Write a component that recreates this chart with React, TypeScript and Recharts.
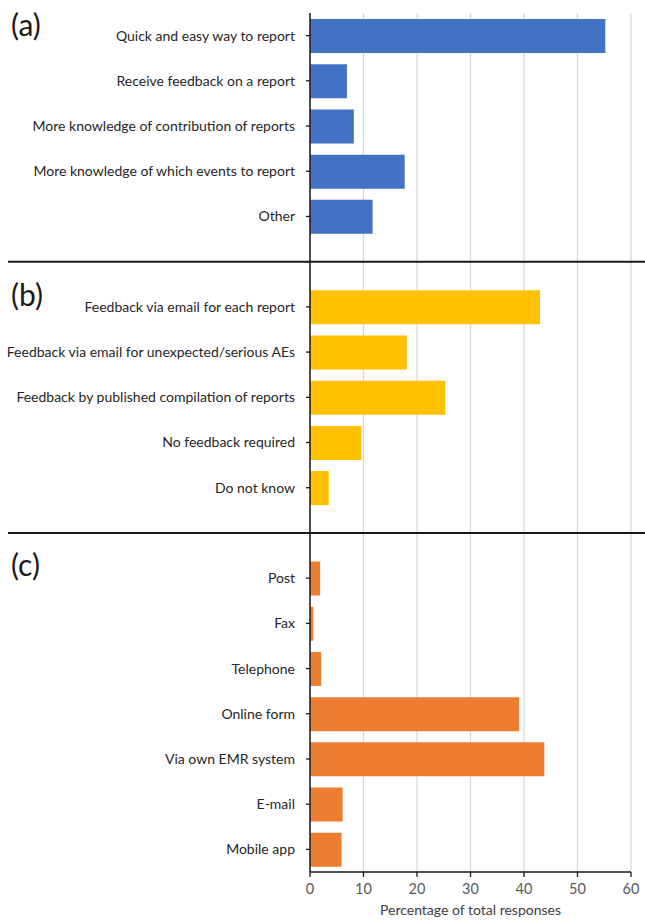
import { Bar, BarChart, CartesianGrid, Cell, ReferenceLine, XAxis, YAxis } from "recharts";

const panelA = ["Quick and easy way to report", "Receive feedback on a report", "More knowledge of contribution of reports", "More knowledge of which events to report", "Other"];
const valuesA = [55.2, 6.9, 8.2, 17.7, 11.7];

const panelB = ["Feedback via email for each report", "Feedback via email for unexpected/serious AEs", "Feedback by published compilation of reports", "No feedback required", "Do not know"];
const valuesB = [43.0, 18.1, 25.3, 9.6, 3.5];

const panelC = ["Post", "Fax", "Telephone", "Online form", "Via own EMR system", "E-mail", "Mobile app"];
const valuesC = [1.9, 0.6, 2.1, 39.1, 43.8, 6.1, 5.9];

const xTicks = [0, 10, 20, 30, 40, 50, 60];
const panelTags = ["(a)", "(b)", "(c)"];

const BLUE = "#4472c4";
const YELLOW = "#ffc000";
const ORANGE = "#ed7d31";

type Row = { id: string; label: string; value: number | null; color: string };

const rows: Row[] = [
  ...panelA.map((label, i) => ({ id: `a${i}`, label, value: valuesA[i], color: BLUE })),
  { id: "sep1", label: "", value: null, color: "none" },
  ...panelB.map((label, i) => ({ id: `b${i}`, label, value: valuesB[i], color: YELLOW })),
  { id: "sep2", label: "", value: null, color: "none" },
  ...panelC.map((label, i) => ({ id: `c${i}`, label, value: valuesC[i], color: ORANGE })),
];

const labelById: Record<string, string> = Object.fromEntries(rows.map((r) => [r.id, r.label]));

const font = "Lato, 'Open Sans', sans-serif";

function Separator(props: any) {
  return <line x1={8} y1={props.y1} x2={645} y2={props.y2} stroke="#1a1a1a" strokeWidth={2} />;
}

export default function App() {
  return (
    <div style={{ position: "absolute", left: 0, top: 0, width: 645, height: 921, background: "#fff", fontFamily: font }}>
      <BarChart
        width={645}
        height={921}
        data={rows}
        layout="vertical"
        margin={{ top: 13, right: 14, bottom: 0, left: 0 }}
        barSize={34}
      >
        <CartesianGrid horizontal={false} stroke="#d9d9d9" strokeWidth={1.3} />
        <XAxis
          type="number"
          domain={[0, 60]}
          ticks={xTicks}
          height={49}
          tick={{ fontSize: 14.5, fill: "#595959", fontFamily: font }}
          axisLine={{ stroke: "#1a1a1a", strokeWidth: 1.3 }}
          tickLine={{ stroke: "#1a1a1a", strokeWidth: 1.3 }}
          tickSize={5}
          tickMargin={7}
          label={{ value: "Percentage of total responses", position: "insideBottom", offset: 6, fontSize: 14, fill: "#404040", fontFamily: font }}
        />
        <YAxis
          type="category"
          dataKey="id"
          width={310}
          interval={0}
          tickFormatter={(v) => labelById[v] ?? ""}
          tick={{ fontSize: 14, fill: "#262626", fontFamily: font }}
          axisLine={{ stroke: "#1a1a1a", strokeWidth: 1.5 }}
          tickLine={{ stroke: "#1a1a1a", strokeWidth: 1.3 }}
          tickSize={4}
          tickMargin={11}
        />
        <ReferenceLine y="sep1" shape={<Separator />} />
        <ReferenceLine y="sep2" shape={<Separator />} />
        <Bar dataKey="value" isAnimationActive={false}>
          {rows.map((r) => (
            <Cell key={r.id} fill={r.color} />
          ))}
        </Bar>
      </BarChart>
      {panelTags.map((t, i) => (
        <div
          key={t}
          style={{ position: "absolute", left: 11, top: 7 + i * 270, fontSize: 30, color: "#1a1a1a", fontFamily: font, lineHeight: "34px" }}
        >
          {t}
        </div>
      ))}
    </div>
  );
}
